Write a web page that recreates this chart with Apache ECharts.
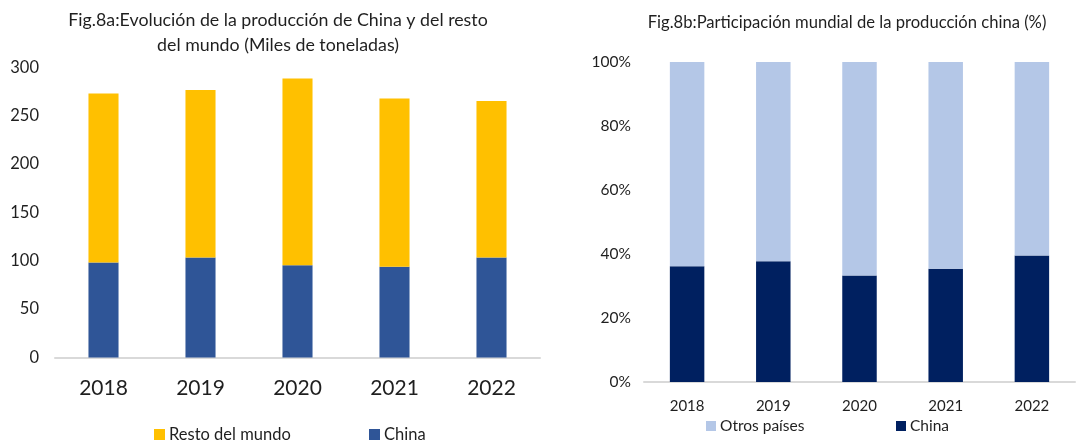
<!DOCTYPE html>
<html>
<head>
<meta charset="utf-8">
<script src="https://cdn.jsdelivr.net/npm/echarts@6/dist/echarts.min.js"></script>
<style>
html,body{margin:0;padding:0;background:#fff;}
#c{width:1085px;height:442px;}
</style>
</head>
<body>
<div id="c"></div>
<script>
const years = ['2018', '2019', '2020', '2021', '2022'];
// Fig.8a: thousands of tonnes
const chinaTonnes = [98.3, 103.4, 95.4, 94.0, 103.4];
const restoTonnes = [174.7, 173.3, 193.1, 174.0, 162.0];
// Fig.8b: share (%)
const chinaShare = [36.2, 37.7, 33.3, 35.4, 39.5];
const otrosShare = [63.8, 62.3, 66.7, 64.6, 60.5];
const leftTicks = [0, 50, 100, 150, 200, 250, 300];
const rightTicks = [0, 20, 40, 60, 80, 100];

const FONT = 'Lato';
const TXT = '#1f1f1f';
const chart = echarts.init(document.getElementById('c'), null, {renderer: 'canvas'});

const axisLine = {show: true, lineStyle: {color: '#d9d9d9', width: 2}};

chart.setOption({
  backgroundColor: '#ffffff',
  textStyle: {fontFamily: FONT, color: TXT},
  animation: false,
  title: [
    {
      text: 'Fig.8a:Evolución de la producción de China y del resto\ndel mundo (Miles de toneladas)',
      left: 273, top: 3, textAlign: 'center',
      textStyle: {fontFamily: FONT, fontSize: 17.8, fontWeight: 'normal', color: TXT, lineHeight: 25}
    },
    {
      text: 'Fig.8b:Participación mundial de la producción china (%)',
      left: 842, top: 9, textAlign: 'center',
      textStyle: {fontFamily: FONT, fontSize: 16.6, fontWeight: 'normal', color: TXT}
    }
  ],
  legend: [
    {
      data: ['Resto del mundo'], left: 149, top: 421,
      itemWidth: 11, itemHeight: 11, icon: 'rect',
      textStyle: {fontFamily: FONT, fontSize: 16.5, color: TXT, padding: [0,0,0,-1]}
    },
    {
      data: ['China'], left: 364, top: 421,
      itemWidth: 11, itemHeight: 11, icon: 'rect',
      textStyle: {fontFamily: FONT, fontSize: 16.5, color: TXT, padding: [0,0,0,-1]}
    },
    {
      data: ['Otros países'], left: 701, top: 413,
      itemWidth: 10, itemHeight: 10, icon: 'rect',
      textStyle: {fontFamily: FONT, fontSize: 15.5, color: TXT, padding: [0,0,0,-1]}
    },
    {
      data: ['China '], left: 891, top: 413,
      itemWidth: 10, itemHeight: 10, icon: 'rect',
      textStyle: {fontFamily: FONT, fontSize: 15.5, color: TXT, padding: [0,0,0,-1]},
      formatter: function (n) { return n.trim(); }
    }
  ],
  grid: [
    {left: 55, width: 485, top: 67.5, height: 290},
    {left: 644, width: 431, top: 62, height: 320}
  ],
  xAxis: [
    {
      type: 'category', gridIndex: 0, data: years,
      axisLine: axisLine, axisTick: {show: false},
      axisLabel: {fontFamily: FONT, fontSize: 21, color: TXT, margin: 20}
    },
    {
      type: 'category', gridIndex: 1, data: years,
      axisLine: axisLine, axisTick: {show: false},
      axisLabel: {fontFamily: FONT, fontSize: 15, color: TXT, margin: 17}
    }
  ],
  yAxis: [
    {
      type: 'value', gridIndex: 0, min: leftTicks[0], max: leftTicks[leftTicks.length - 1], interval: 50,
      axisLine: {show: false}, axisTick: {show: false}, splitLine: {show: false},
      axisLabel: {fontFamily: FONT, fontSize: 16.5, color: TXT, margin: 16}
    },
    {
      type: 'value', gridIndex: 1, min: rightTicks[0], max: rightTicks[rightTicks.length - 1], interval: 20,
      axisLine: {show: false}, axisTick: {show: false}, splitLine: {show: false},
      axisLabel: {fontFamily: FONT, fontSize: 15.5, color: TXT, margin: 13, formatter: '{value}%'}
    }
  ],
  series: [
    {
      name: 'China', type: 'bar', stack: 'a', xAxisIndex: 0, yAxisIndex: 0,
      data: chinaTonnes, barWidth: '31%', itemStyle: {color: '#2f5597'}
    },
    {
      name: 'Resto del mundo', type: 'bar', stack: 'a', xAxisIndex: 0, yAxisIndex: 0,
      data: restoTonnes, barWidth: '31%', itemStyle: {color: '#ffc000'}
    },
    {
      name: 'China ', type: 'bar', stack: 'b', xAxisIndex: 1, yAxisIndex: 1,
      data: chinaShare, barWidth: '40%', itemStyle: {color: '#002060'}
    },
    {
      name: 'Otros países', type: 'bar', stack: 'b', xAxisIndex: 1, yAxisIndex: 1,
      data: otrosShare, barWidth: '40%', itemStyle: {color: '#b4c7e7'}
    }
  ]
});
</script>
</body>
</html>
